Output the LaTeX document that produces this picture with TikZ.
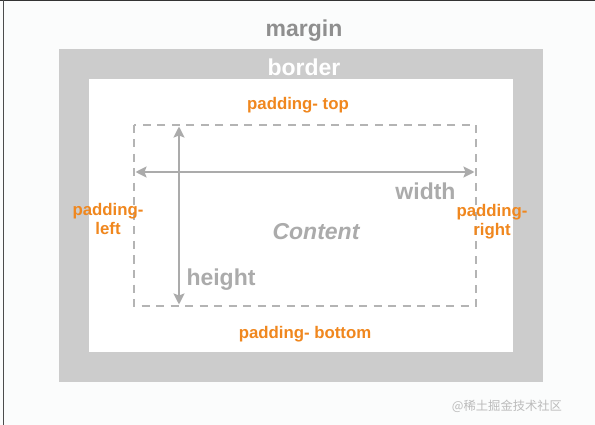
\documentclass[tikz,border=0pt]{standalone}
\usepackage{fontspec}
\setmainfont{Liberation Sans}
\newfontfamily\cjk{Noto Sans CJK SC}
\usetikzlibrary{arrows.meta}
\definecolor{bgc}{HTML}{FBFCFC}
\definecolor{bordc}{HTML}{CCCCCC}
\definecolor{margc}{HTML}{8F8F8F}
\definecolor{dimc}{HTML}{ABABAB}
\definecolor{dashc}{HTML}{B4B4B4}
\definecolor{orng}{HTML}{F0871E}
\definecolor{wmc}{HTML}{BBBBBB}
\tikzset{
  big/.style={inner sep=0pt, anchor=base, font=\fontsize{23}{26}\selectfont\bfseries},
  pad/.style={inner sep=0pt, anchor=base, align=center, text=orng, font=\fontsize{16.8}{19}\selectfont\bfseries},
  dim/.style={draw=dimc, line width=2.8pt, {Stealth[length=11pt,width=11pt,inset=2pt]}-{Stealth[length=11pt,width=11pt,inset=2pt]}},
  dashbox/.style={draw=dashc, line width=2pt, dash pattern=on 8pt off 6.5pt}
}
\begin{document}
\begin{tikzpicture}[x=1pt,y=-1pt]
\useasboundingbox (0,0) rectangle (595,425);
\fill[bgc] (0,0) rectangle (595,425);
\draw[line width=1.5pt, black!80] (0,0.75) -- (595,0.75);
\draw[line width=1pt, black!70] (3,0) -- (3,425);
% border and padding area
\fill[bordc] (59,49) rectangle (543,382);
\fill[white] (89,79) rectangle (513,352);
% content box
\draw[dashbox] (134,125) rectangle (476,306);
% dimension arrows
\coordinate (wl) at (135.5,172);
\coordinate (wr) at (474.5,172);
\coordinate (ht) at (179,126.5);
\coordinate (hb) at (179,304.5);
\draw[dim] (wl) -- (wr);
\draw[dim] (ht) -- (hb);
% labels
\node[big, text=margc] (margin) at (304,37) {margin};
\node[big, text=white] (border) at (304,75.5) {border};
\node[pad] (ptop) at (298,110) {padding- top};
\node[pad] (pbottom) at (305,338) {padding- bottom};
\node[pad] (pleft) at (108,234) {padding-\\left};
\node[pad] (pright) at (492,236) {padding-\\right};
\node[big, text=dimc] (width) at (425.5,200) {width};
\node[big, text=dimc] (height) at (221,285) {height};
\node[big, text=dimc, font=\fontsize{23}{26}\selectfont\bfseries\itshape] (content) at (316,240) {Content};
\node[inner sep=0pt, anchor=base, text=wmc, font=\cjk\fontsize{12.3}{14}\selectfont] (wm) at (507,410) {@稀土掘金技术社区};
\end{tikzpicture}
\end{document}
